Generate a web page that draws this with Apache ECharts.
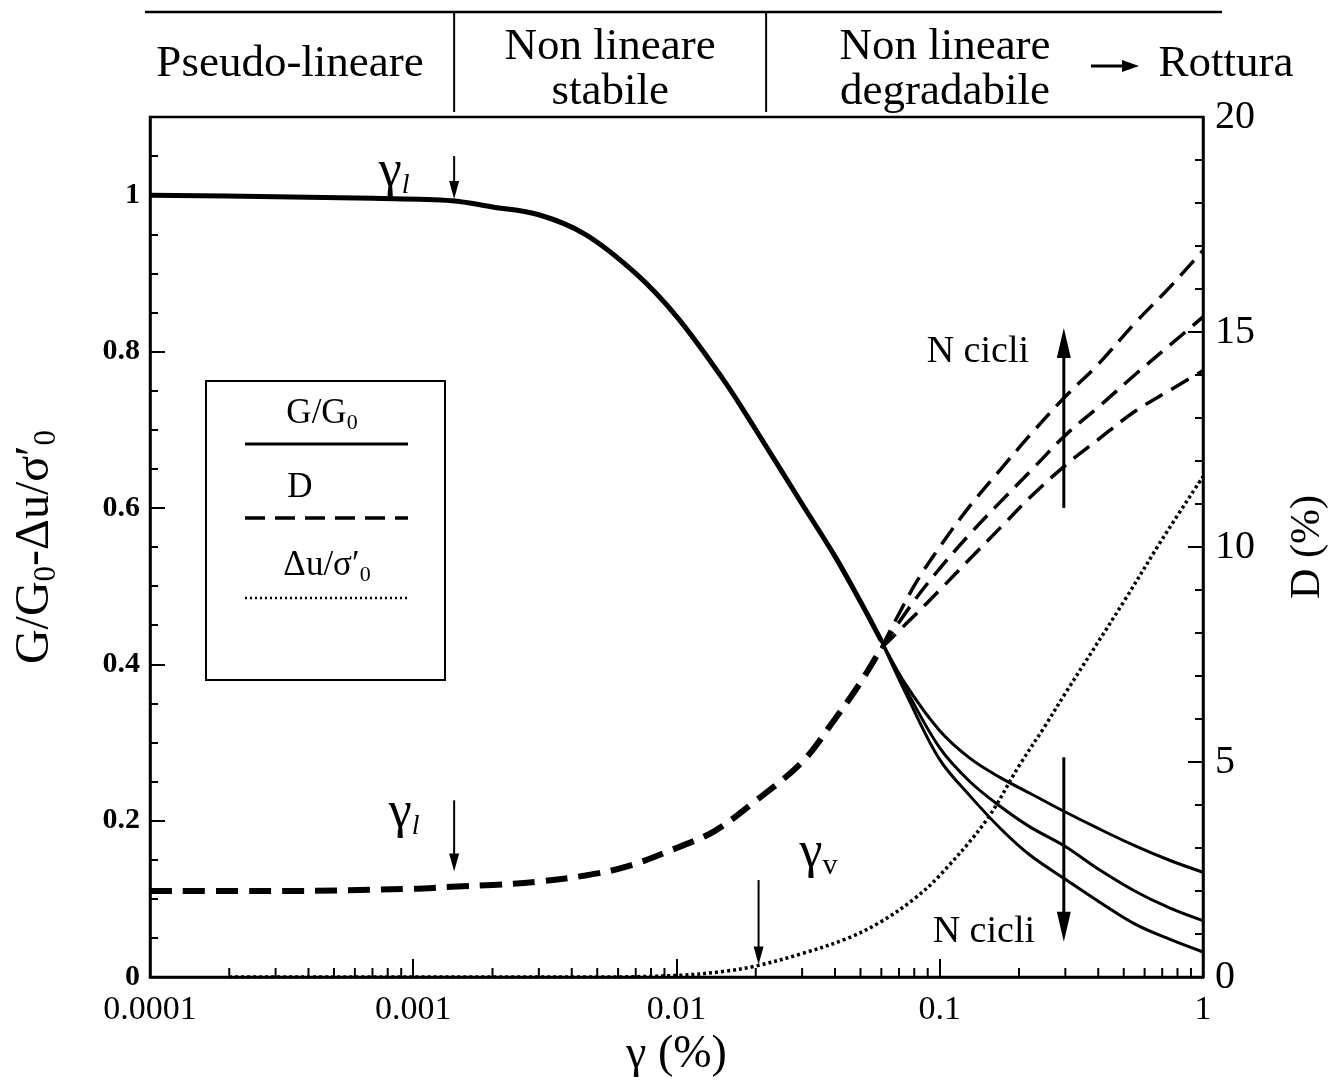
<!DOCTYPE html>
<html><head><meta charset="utf-8">
<script src="https://cdn.jsdelivr.net/npm/echarts@6/dist/echarts.min.js"></script>
<style>html,body{margin:0;padding:0;background:#fff}#c{width:1337px;height:1089px}</style>
</head><body><div id="c"></div>
<script>
// ---- data (gamma in %, G/G0 and Δu/σ'0 on left axis, D in % on right axis) ----
const gammaCommonG = [0.0001,0.0003,0.0007,0.0014,0.002,0.003,0.0045,0.007,0.01,0.015,0.02,0.03, 0.04, 0.05, 0.06];
const gCommon      = [1.0,   0.998, 0.996, 0.993, 0.985,0.975,0.95,  0.9,  0.845,0.765,0.7, 0.605,0.538,0.48,0.43];
const gammaBranch  = [0.06,0.075,0.1,  0.13, 0.17, 0.22, 0.3,  0.4,  0.55, 0.75, 1];
const gTop         = [0.43,0.372,0.315,0.28, 0.255,0.235,0.211,0.19, 0.168,0.149,0.134];
const gMid         = [0.43,0.366,0.293,0.25, 0.218,0.192,0.167,0.138,0.11, 0.088,0.072];
const gLow         = [0.43,0.36, 0.278,0.232,0.19, 0.156,0.125,0.097,0.068,0.048,0.032];
const gammaCommonD = [0.0001,0.0003,0.001,0.0014,0.002,0.003,0.0045,0.0065,0.01,0.014,0.02,0.03,0.04,0.05,0.06];
const dCommon      = [2.0,   2.0,   2.05, 2.1,   2.14, 2.22, 2.36,  2.57,  3.0, 3.4,  4.1, 5.0, 6.0, 6.85,7.65];
const gammaBranchD = [0.06,0.08,0.1,  0.13, 0.17, 0.22, 0.3, 0.4,  0.55, 0.75, 1];
const dTop         = [7.65,9.1, 10.0, 10.95,11.8, 12.6, 13.5,14.25,15.2, 16.05,16.9];
const dMid         = [7.65,8.75,9.5,  10.3, 11.05,11.75,12.6,13.25,14.0, 14.7, 15.35];
const dLow         = [7.65,8.4, 9.0,  9.72, 10.45,11.15,11.9,12.5, 13.15,13.65,14.1];
const gammaU       = [0.0002,0.001,0.005,0.01, 0.015,0.02, 0.03,0.045,0.06, 0.08,0.1, 0.15,0.2, 0.25,0.3, 0.5, 0.7, 1];
const uValues      = [0,     0,    0,    0.002,0.007,0.014,0.03,0.05, 0.071,0.1, 0.13,0.2, 0.27,0.32,0.363,0.48,0.56,0.64];
const xTickLabels  = ['0.0001','0.001','0.01','0.1','1'];
const gammaL = 0.00143, gammaV = 0.0205, gammaArrowN = 0.296;

const pairs = (xs, ys) => xs.map((x, i) => [x, ys[i]]);
const minorX = [];
for (let d = -4; d < 0; d++) for (let k = 2; k <= 9; k++) minorX.push([k * Math.pow(10, d), 0]);

const FONT = '"Liberation Serif", "Times New Roman", serif';
const chart = echarts.init(document.getElementById('c'));
const base = {type:'line', smooth:0.35, showSymbol:false, symbol:'none', silent:true};
const solidBranch = Object.assign({lineStyle:{color:'#000', width:3}}, base);
const dashBranch = Object.assign({yAxisIndex:1, lineStyle:{color:'#000', width:3.5, type:[20,10]}}, base);

const option = {
  backgroundColor:'#fff',
  animation:false,
  grid:{left:150, right:132, top:117, bottom:112, show:true, borderColor:'#000', borderWidth:2.5, backgroundColor:'transparent'},
  xAxis:{
    type:'log', logBase:10, min:0.0001, max:1, splitNumber:4,
    name:'γ (%)', nameLocation:'middle', nameGap:52,
    nameTextStyle:{fontFamily:FONT, fontSize:46, color:'#000'},
    axisLine:{lineStyle:{color:'#000', width:2.5}},
    axisTick:{inside:true, length:18, lineStyle:{color:'#000', width:2}},
    axisLabel:{margin:16, fontFamily:FONT, fontSize:34, color:'#000',
      formatter: v => { const s = String(parseFloat(Number(v).toPrecision(6))); return xTickLabels.indexOf(s) >= 0 ? s : ''; }},
    splitLine:{show:false}
  },
  yAxis:[{
    type:'value', min:0, max:1.1, interval:0.2,
    name:"G/G{s|0}-Δu/σ′{s|0}", nameLocation:'middle', nameGap:88,
    nameTextStyle:{fontFamily:FONT, fontSize:48, color:'#000', lineHeight:54,
      rich:{s:{fontFamily:FONT, fontSize:31, lineHeight:28, verticalAlign:'bottom', color:'#000'}}},
    axisLine:{show:true, lineStyle:{color:'#000', width:2.5}},
    axisTick:{inside:true, length:15, lineStyle:{color:'#000', width:2}},
    minorTick:{show:true, splitNumber:4, length:8, lineStyle:{color:'#000', width:2}},
    axisLabel:{margin:10, fontFamily:FONT, fontWeight:'bold', fontSize:30, color:'#000',
      formatter: v => (v > 1.05 ? '' : String(Math.round(v * 10) / 10))},
    splitLine:{show:false}
  },{
    type:'value', min:0, max:20, interval:5, position:'right',
    name:'D (%)', nameLocation:'middle', nameGap:84,
    nameTextStyle:{fontFamily:FONT, fontSize:42, color:'#000'},
    axisLine:{show:true, lineStyle:{color:'#000', width:2.5}},
    axisTick:{inside:true, length:15, lineStyle:{color:'#000', width:2}},
    minorTick:{show:true, splitNumber:5, length:8, lineStyle:{color:'#000', width:2}},
    axisLabel:{margin:12, fontFamily:FONT, fontSize:40, color:'#000'},
    splitLine:{show:false}
  }],
  series:[
    {type:'custom', silent:true, clip:false, data:minorX, renderItem:(params, api) => {
      const p = api.coord([api.value(0), 0]);
      return {type:'line', shape:{x1:p[0], y1:p[1], x2:p[0], y2:p[1] - 9}, style:{stroke:'#000', lineWidth:2}};
    }},
    Object.assign({data:pairs(gammaCommonG, gCommon), lineStyle:{color:'#000', width:5}}, base),
    Object.assign({data:pairs(gammaBranch, gTop)}, solidBranch),
    Object.assign({data:pairs(gammaBranch, gMid)}, solidBranch),
    Object.assign({data:pairs(gammaBranch, gLow)}, solidBranch),
    Object.assign({yAxisIndex:1, data:pairs(gammaCommonD, dCommon), lineStyle:{color:'#000', width:6, type:[22,11]}}, base),
    Object.assign({data:pairs(gammaBranchD, dTop)}, dashBranch),
    Object.assign({data:pairs(gammaBranchD, dMid)}, dashBranch),
    Object.assign({data:pairs(gammaBranchD, dLow)}, dashBranch),
    Object.assign({data:pairs(gammaU, uValues), lineStyle:{color:'#000', width:3.5, type:[3,3]}}, base)
  ]
};
chart.setOption(option);

const P = (x, y) => chart.convertToPixel({xAxisIndex:0, yAxisIndex:0}, [x, y]);
function vArrow(x, y1, y2, hw, hl, lw) { // arrow from y1 to y2 (pixels), head at y2
  const dir = y2 > y1 ? 1 : -1;
  return [
    {type:'line', silent:true, shape:{x1:x, y1:y1, x2:x, y2:y2 - dir * hl * 0.7}, style:{stroke:'#000', lineWidth:lw}},
    {type:'polygon', silent:true, shape:{points:[[x - hw, y2 - dir * hl], [x + hw, y2 - dir * hl], [x, y2]]}, style:{fill:'#000'}}
  ];
}
function txt(x, y, text, size, extra) {
  return {type:'text', silent:true, style:Object.assign({x:x, y:y, text:text, fill:'#000',
    font: size + 'px ' + FONT, fontFamily:FONT, fontSize:size,
    align:'center', verticalAlign:'middle', textAlign:'center', textVerticalAlign:'middle'}, extra || {})};
}
const gl1 = P(gammaL, 1.05), gl1b = P(gammaL, 0.995);
const gl2 = P(gammaL, 0.226), gl2b = P(gammaL, 0.135);
const gv = P(gammaV, 0.124), gvb = P(gammaV, 0.016);
const nu = P(gammaArrowN, 0.6), nut = P(gammaArrowN, 0.83);
const nd = P(gammaArrowN, 0.281), ndb = P(gammaArrowN, 0.045);
const sepL = P(gammaL, 0)[0], sepV = P(0.0219, 0)[0];
const gRich = {s:{fontFamily:FONT, fontSize:28, fontStyle:'italic', verticalAlign:'bottom', lineHeight:24}};
const vRich = {s:{fontFamily:FONT, fontSize:30, verticalAlign:'bottom', lineHeight:26}};
const subRich = {s:{fontFamily:FONT, fontSize:22, verticalAlign:'bottom', lineHeight:20}};
const els = [];
// header
els.push({type:'line', silent:true, shape:{x1:145, y1:12, x2:1222, y2:12}, style:{stroke:'#000', lineWidth:2.5}});
els.push({type:'line', silent:true, shape:{x1:sepL, y1:12, x2:sepL, y2:112}, style:{stroke:'#000', lineWidth:2}});
els.push({type:'line', silent:true, shape:{x1:sepV, y1:12, x2:sepV, y2:112}, style:{stroke:'#000', lineWidth:2}});
els.push(txt((150 + sepL) / 2 - 12, 64, 'Pseudo-lineare', 45));
els.push(txt((sepL + sepV) / 2, 70, 'Non lineare\nstabile', 45, {lineHeight:45}));
els.push(txt(945, 70, 'Non lineare\ndegradabile', 45, {lineHeight:45}));
els.push({type:'line', silent:true, shape:{x1:1091, y1:66, x2:1125, y2:66}, style:{stroke:'#000', lineWidth:3}});
els.push({type:'polygon', silent:true, shape:{points:[[1122, 60], [1122, 72], [1139, 66]]}, style:{fill:'#000'}});
els.push(txt(1226, 64, 'Rottura', 45));
// annotations
vArrow(gl1[0], gl1[1], gl1b[1], 5, 18, 2).forEach(e => els.push(e));
els.push(txt(gl1[0] - 60, 172, 'γ{s|l}', 52, {rich:gRich, lineHeight:56}));
vArrow(gl2[0], gl2[1], gl2b[1], 5, 18, 2).forEach(e => els.push(e));
els.push(txt(gl2[0] - 50, 813, 'γ{s|l}', 52, {rich:gRich, lineHeight:56}));
vArrow(gv[0], gv[1], gvb[1], 5, 18, 2).forEach(e => els.push(e));
els.push(txt(gv[0] + 60, 853, 'γ{s|v}', 52, {rich:vRich, lineHeight:56}));
vArrow(nu[0], nu[1], nut[1], 7, 30, 3).forEach(e => els.push(e));
els.push(txt(nu[0] - 86, 352, 'N cicli', 38));
vArrow(nd[0], nd[1], ndb[1], 7, 30, 3).forEach(e => els.push(e));
els.push(txt(nd[0] - 80, 932, 'N cicli', 38));
// legend box
els.push({type:'rect', silent:true, shape:{x:206, y:381, width:239, height:299}, style:{fill:'none', stroke:'#000', lineWidth:2}});
els.push(txt(322, 414, 'G/G{s|0}', 35, {rich:subRich, lineHeight:40}));
els.push({type:'line', silent:true, shape:{x1:245, y1:444, x2:408, y2:444}, style:{stroke:'#000', lineWidth:3}});
els.push(txt(300, 488, 'D', 35));
els.push({type:'line', silent:true, shape:{x1:245, y1:518, x2:408, y2:518}, style:{stroke:'#000', lineWidth:3.5, lineDash:[20,10]}});
els.push(txt(327, 566, 'Δu/σ′{s|0}', 35, {rich:subRich, lineHeight:40}));
els.push({type:'line', silent:true, shape:{x1:245, y1:598, x2:408, y2:598}, style:{stroke:'#000', lineWidth:2.5, lineDash:[2,3]}});
chart.setOption({graphic:{elements:els}});
</script></body></html>
